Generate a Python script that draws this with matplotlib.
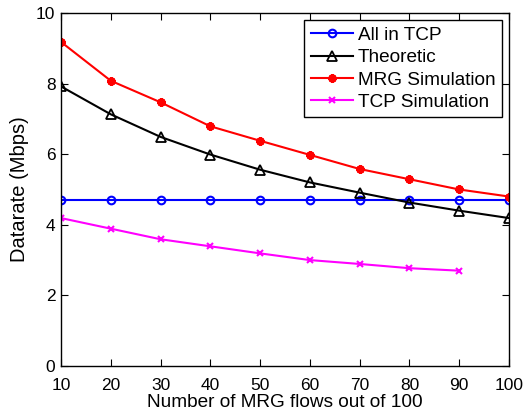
import matplotlib
matplotlib.use("Agg")
import matplotlib.pyplot as plt

plt.rcParams['font.family'] = ['Liberation Sans', 'DejaVu Sans']

flows = [10, 20, 30, 40, 50, 60, 70, 80, 90, 100]
all_in_tcp = [4.7] * 10
theoretic = [7.92, 7.13, 6.49, 5.99, 5.56, 5.2, 4.91, 4.63, 4.4, 4.19]
mrg_sim = [9.18, 8.08, 7.47, 6.79, 6.38, 5.98, 5.58, 5.29, 5.0, 4.8]
tcp_flows = [10, 20, 30, 40, 50, 60, 70, 80, 90]
tcp_sim = [4.19, 3.89, 3.59, 3.39, 3.19, 3.0, 2.89, 2.77, 2.7]

fig = plt.figure(figsize=(5.27, 4.12), dpi=100)
ax = fig.add_axes([0.1157, 0.1117, 0.8501, 0.8568])

ax.plot(flows, all_in_tcp, color='#0000ff', marker='o', markersize=5.5, markerfacecolor='none',
        markeredgewidth=1.5, linewidth=1.5, label='All in TCP')
ax.plot(flows, theoretic, color='black', marker='^', markersize=7, markerfacecolor='none',
        markeredgewidth=1.3, linewidth=1.5, label='Theoretic')
ax.plot(flows, mrg_sim, color='red', marker=(8, 2, 0), markersize=6, linewidth=1.5,
        markeredgewidth=1.8, label='MRG Simulation')
ax.plot(tcp_flows, tcp_sim, color='magenta', marker='x', markersize=4.5, markeredgewidth=1.5,
        linewidth=1.5, label='TCP Simulation')

ax.set_xlim(10, 100)
ax.set_ylim(0, 10)
ax.set_xticks(flows)
ax.set_yticks([0, 2, 4, 6, 8, 10])
ax.tick_params(direction='in', top=True, right=True, labelsize=12.5, length=5, width=0.8)
ax.tick_params(axis='x', pad=8.5)
ax.tick_params(axis='y', pad=4)
for s in ax.spines.values():
    s.set_linewidth(1.0)
ax.set_xlabel('Number of MRG flows out of 100', fontsize=13.7, labelpad=1)
ax.set_ylabel('Datarate (Mbps)', fontsize=14.5, labelpad=5)

leg = ax.legend(loc='upper right', bbox_to_anchor=(0.984, 0.98), borderaxespad=0,
                fontsize=13.7, fancybox=False, edgecolor='black', framealpha=1,
                handlelength=2.2, handletextpad=0.25, labelspacing=0.26, borderpad=0.35)
leg.get_frame().set_linewidth(1.0)

fig.savefig('out.png', dpi=100)
